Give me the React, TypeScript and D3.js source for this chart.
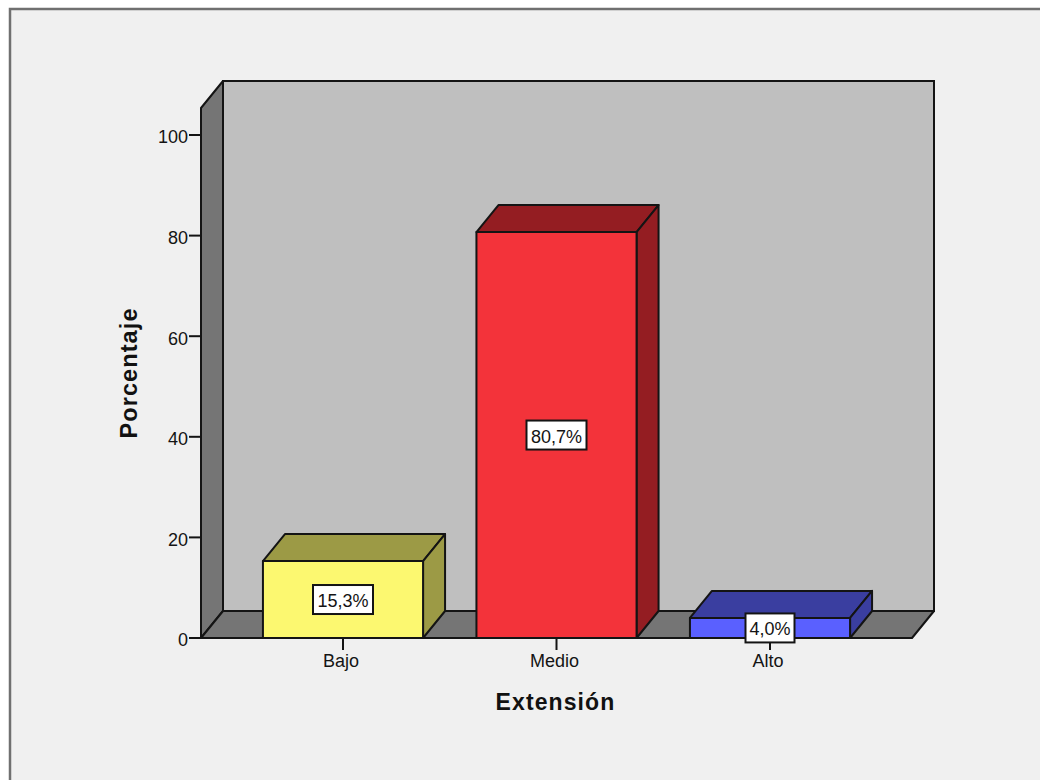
import React from "react";
import * as d3 from "d3";

const categories = ["Bajo", "Medio", "Alto"];
const percentages = [15.3, 80.7, 4.0];
const valueLabels = ["15,3%", "80,7%", "4,0%"];
const frontColors = ["#fcf870", "#f3333a", "#5a60ff"];
const sideColors = ["#9c9a45", "#941d22", "#3a3ea0"];
const yTicks = [0, 20, 40, 60, 80, 100];
const xTitle = "Extensión";
const yTitle = "Porcentaje";

const FONT = "'Liberation Sans', Arial, sans-serif";
const DX = 22;
const DY = -27;
const INK = "#141414";

const y = d3.scaleLinear().domain([0, 100]).range([638, 135]);
const x = d3.scaleBand<string>().domain(categories).range([236.25, 876.75]).paddingInner(0.25).paddingOuter(0.125);

const axisLeft = 201;
const axisRight = 912;
const axisTop = 108;
const base = y(0);

const pts = (p: number[][]) => p.map((q) => q.join(",")).join(" ");

export default function App() {
  const bw = x.bandwidth();
  return (
    <svg
      width={1040}
      height={780}
      viewBox="0 0 1040 780"
      style={{ position: "fixed", left: 0, top: 0, display: "block", background: "#fff" }}
      fontFamily={FONT}
    >
      <rect x={10} y={9} width={1040} height={790} fill="#f0f0f0" stroke="#707070" strokeWidth={2.5} />

      {/* back wall */}
      <rect x={axisLeft + DX} y={axisTop + DY} width={axisRight - axisLeft} height={base - axisTop} fill="#bfbfbf" stroke={INK} strokeWidth={2} />
      {/* left wall */}
      <polygon
        points={pts([[axisLeft, axisTop], [axisLeft + DX, axisTop + DY], [axisLeft + DX, base + DY], [axisLeft, base]])}
        fill="#757575" stroke={INK} strokeWidth={2} strokeLinejoin="round"
      />
      {/* floor */}
      <polygon
        points={pts([[axisLeft, base], [axisLeft + DX, base + DY], [axisRight + DX, base + DY], [axisRight, base]])}
        fill="#757575" stroke={INK} strokeWidth={2} strokeLinejoin="round"
      />

      {/* bars */}
      {categories.map((c, i) => {
        const x0 = x(c)!;
        const x1 = x0 + bw;
        const top = y(percentages[i]);
        return (
          <g key={c} stroke={INK} strokeWidth={2} strokeLinejoin="round">
            <polygon points={pts([[x0, top], [x0 + DX, top + DY], [x1 + DX, top + DY], [x1, top]])} fill={sideColors[i]} />
            <polygon points={pts([[x1, top], [x1 + DX, top + DY], [x1 + DX, base + DY], [x1, base]])} fill={sideColors[i]} />
            <rect x={x0} y={top} width={bw} height={base - top} fill={frontColors[i]} />
          </g>
        );
      })}

      {/* y axis */}
      {yTicks.map((t) => (
        <g key={t}>
          <line x1={axisLeft - 12} x2={axisLeft} y1={y(t)} y2={y(t)} stroke={INK} strokeWidth={2} />
          <text x={axisLeft - 13} y={y(t) + 2} dy="0.36em" textAnchor="end" fontSize={18} fill={INK}>{t}</text>
        </g>
      ))}

      {/* x axis */}
      {categories.map((c) => {
        const cx = x(c)! + bw / 2;
        return (
          <g key={c}>
            <line x1={cx} x2={cx} y1={base} y2={base + 12} stroke={INK} strokeWidth={2} />
            <text x={cx - 2} y={base + 29} textAnchor="middle" fontSize={18} fill={INK}>{c}</text>
          </g>
        );
      })}

      {/* value labels */}
      {categories.map((c, i) => {
        const cx = x(c)! + bw / 2;
        const cy = (y(percentages[i]) + base) / 2;
        const w = i === 2 ? 49 : 60;
        return (
          <g key={c}>
            <rect x={cx - w / 2} y={cy - 14.5} width={w} height={29} fill="#fff" stroke={INK} strokeWidth={2} />
            <text x={cx} y={cy + 1} dy="0.36em" textAnchor="middle" fontSize={18} fill={INK}>{valueLabels[i]}</text>
          </g>
        );
      })}

      <text x={555.5} y={710} textAnchor="middle" fontSize={23} fontWeight="bold" letterSpacing={1.1} fill="#111">{xTitle}</text>
      <text transform="translate(137,373) rotate(-90)" textAnchor="middle" fontSize={23.5} fontWeight="bold" letterSpacing={1.1} fill="#111">{yTitle}</text>
    </svg>
  );
}
